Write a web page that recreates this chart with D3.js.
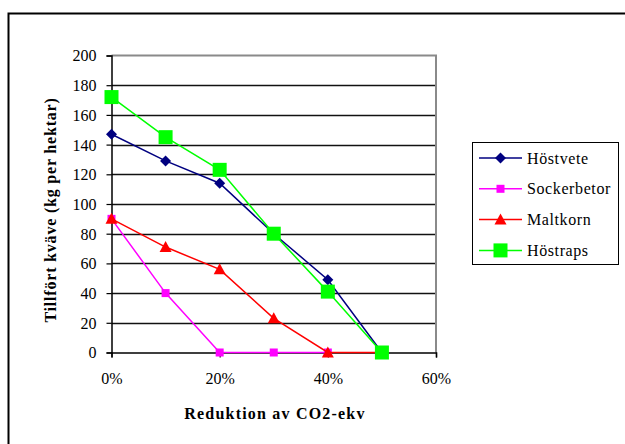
<!DOCTYPE html>
<html>
<head>
<meta charset="utf-8">
<script src="https://cdn.jsdelivr.net/npm/d3@7"></script>
</head>
<body style="margin:0">
<svg id="chart" width="625" height="444" font-family="Liberation Serif" style="font-family: 'Liberation Serif'"></svg>
<script>
// Reduction levels (share of CO2-eq reduction)
const reduction = [0, 0.1, 0.2, 0.3, 0.4, 0.5];

// Nitrogen applied (kg per hectare) per crop
const hostvete    = [147, 129, 114, 80, 49, 0];
const sockerbetor = [90, 40, 0, 0, 0];
const maltkorn    = [90, 71, 56, 23, 0, 0];
const hostraps    = [172, 145, 123, 80, 41, 0];

const yTicks = [0, 20, 40, 60, 80, 100, 120, 140, 160, 180, 200];
const xTicks = [0, 0.2, 0.4, 0.6];

const series = [
  { name: "Höstvete",    values: hostvete,    color: "#000080", shape: "diamond" },
  { name: "Sockerbetor", values: sockerbetor, color: "#FF00FF", shape: "smallSquare" },
  { name: "Maltkorn",    values: maltkorn,    color: "#FF0000", shape: "triangle" },
  { name: "Höstraps",    values: hostraps,    color: "#00FF00", shape: "bigSquare" }
];

const FONT = "Liberation Serif";

const svg = d3.select("#chart");

// Sets the serif face on a text selection both as attribute and inline style
function serif(sel, size, weight) {
  sel.attr("font-family", FONT).style("font-family", `"${FONT}"`)
     .style("font-size", size + "px")
     .style("font-weight", weight || "normal")
     .attr("fill", "#000");
  return sel;
}

// Outer chart frame (extends past the right and bottom edges)
svg.append("rect")
  .attr("x", 8.5).attr("y", 13.5)
  .attr("width", 640).attr("height", 460)
  .attr("fill", "none").attr("stroke", "#000").attr("stroke-width", 2);

const plot = { left: 111.5, right: 436, top: 55.5, bottom: 352.5 };

const x = d3.scaleLinear().domain([0, 0.6]).range([plot.left, plot.right]);
const y = d3.scaleLinear().domain([0, 200]).range([plot.bottom, plot.top]);

// Horizontal gridlines
svg.append("g")
  .selectAll("line")
  .data(yTicks.filter(d => d > 0 && d < 200))
  .join("line")
  .attr("x1", plot.left).attr("x2", plot.right)
  .attr("y1", d => Math.round(y(d)) + 0.5).attr("y2", d => Math.round(y(d)) + 0.5)
  .attr("stroke", "#111").attr("stroke-width", 1.4);

// Plot area border (top and right in grey)
svg.append("path")
  .attr("d", `M${plot.left},${plot.top}H${plot.right}V${plot.bottom}`)
  .attr("fill", "none").attr("stroke", "#8a8a8a").attr("stroke-width", 2);

// Y axis
const yAxis = d3.axisLeft(y).tickValues(yTicks).tickSize(5).tickPadding(10)
  .tickFormat(d3.format("d"));
const gy = svg.append("g").attr("transform", `translate(${plot.left},0)`).call(yAxis);
gy.attr("font-family", FONT).attr("font-size", 16);
gy.select(".domain").attr("stroke", "#000").attr("stroke-width", 1.5);
gy.selectAll(".tick line").attr("stroke", "#000").attr("stroke-width", 1.2);
serif(gy.selectAll(".tick text"), 16).attr("dy", "0.34em");

// X axis
const xAxis = d3.axisBottom(x).tickValues(xTicks).tickSize(5).tickPadding(15)
  .tickFormat(d3.format(".0%"));
const gx = svg.append("g").attr("transform", `translate(0,${plot.bottom})`).call(xAxis);
gx.attr("font-family", FONT).attr("font-size", 16);
gx.select(".domain").attr("stroke", "#000").attr("stroke-width", 1.5);
gx.selectAll(".tick line").attr("stroke", "#000").attr("stroke-width", 1.2);
serif(gx.selectAll(".tick text"), 16);

// Axis titles
serif(svg.append("text"), 16, "bold")
  .attr("x", 275).attr("y", 419)
  .attr("text-anchor", "middle")
  .style("letter-spacing", "1.2px")
  .text("Reduktion av CO2-ekv");

serif(svg.append("text"), 16, "bold")
  .attr("transform", "translate(56,210) rotate(-90)")
  .attr("text-anchor", "middle")
  .style("letter-spacing", "0.8px")
  .text("Tillfört kväve (kg per hektar)");

// Marker shapes
function marker(sel, shape, color) {
  if (shape === "diamond") {
    sel.append("path").attr("d", "M0,-5.5L5.5,0L0,5.5L-5.5,0Z").attr("fill", color);
  } else if (shape === "smallSquare") {
    sel.append("rect").attr("x", -4).attr("y", -4).attr("width", 8).attr("height", 8).attr("fill", color);
  } else if (shape === "triangle") {
    sel.append("path").attr("d", "M0,-6L6,5L-6,5Z").attr("fill", color);
  } else {
    sel.append("rect").attr("x", -7).attr("y", -7).attr("width", 14).attr("height", 14).attr("fill", color);
  }
}

const line = d3.line().x((d, i) => x(reduction[i])).y(d => y(d));

series.forEach(s => {
  const g = svg.append("g");
  g.append("path")
    .attr("d", line(s.values))
    .attr("fill", "none").attr("stroke", s.color).attr("stroke-width", 1.5);
  s.values.forEach((v, i) => {
    const m = g.append("g").attr("transform", `translate(${x(reduction[i])},${y(v)})`);
    marker(m, s.shape, s.color);
  });
});

// Legend
const legend = svg.append("g");
legend.append("rect")
  .attr("x", 472.5).attr("y", 142.5).attr("width", 146).attr("height", 122)
  .attr("fill", "#fff").attr("stroke", "#000").attr("stroke-width", 1);

series.forEach((s, i) => {
  const cy = 158 + i * 30.8;
  const item = legend.append("g");
  item.append("line")
    .attr("x1", 479).attr("x2", 522).attr("y1", cy).attr("y2", cy)
    .attr("stroke", s.color).attr("stroke-width", 1.5);
  const m = item.append("g").attr("transform", `translate(500.5,${cy})`);
  marker(m, s.shape, s.color);
  serif(item.append("text"), 16)
    .attr("x", 527).attr("y", cy + 5.5)
    .style("letter-spacing", "0.6px")
    .text(s.name);
});
</script>
</body>
</html>
